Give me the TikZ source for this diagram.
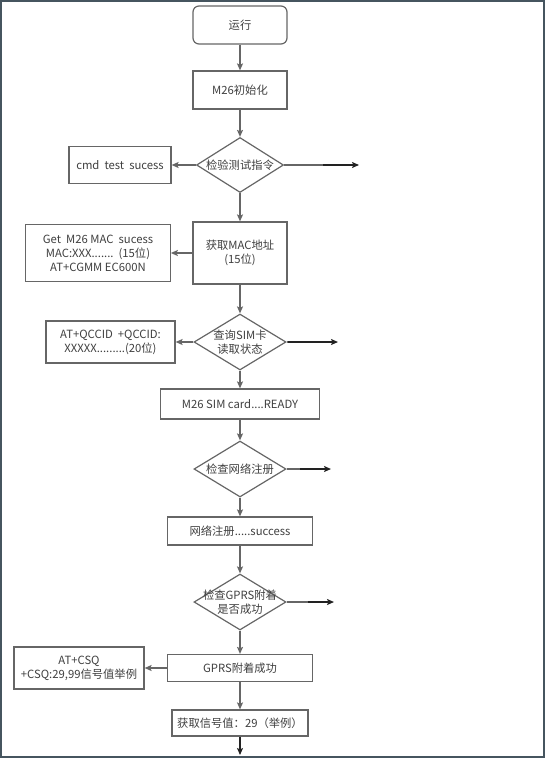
\documentclass[tikz,border=0pt]{standalone}
\usepackage{fontspec}
\setmainfont{Noto Sans CJK SC}
\usetikzlibrary{shapes.geometric,arrows.meta}
\definecolor{ln}{HTML}{666666}
\definecolor{dk}{HTML}{222222}
\definecolor{tx}{HTML}{404040}
\definecolor{fr}{HTML}{46555F}
\newcommand{\fnt}{\fontsize{11.3}{14}\selectfont}
\newcommand{\dtxt}[1]{\makebox[0pt]{\raisebox{-4pt}[0pt][0pt]{\begin{tabular}{@{}c@{}}#1\end{tabular}}}}
\begin{document}
\begin{tikzpicture}[x=1pt,y=1pt,
  box/.style={draw=ln, line width=1.2pt, fill=white, text=tx, inner sep=0pt, align=center, font=\fnt},
  sz/.style 2 args={minimum width=#1pt, minimum height=#2pt},
  dia/.style={diamond, draw=ln, line width=1.2pt, fill=white, text=tx, inner sep=0pt, font=\fnt},
  arr/.style={draw=ln, line width=1.3pt, -{Stealth[length=7pt,width=6pt,inset=1.5pt]}},
  plain/.style={draw=ln, line width=1.3pt},
  darr/.style={draw=dk, line width=1.5pt, -{Stealth[length=7pt,width=6pt,inset=1.5pt]}}
]
\useasboundingbox (0,0) rectangle (546,-758);
\draw[fr, line width=1.6pt] (0.8,-0.8) rectangle (544.2,-757.2);

\node[box, sz={94}{38}, rounded corners=6pt] (start) at (240,-25) {运行};
\node[box, sz={94}{38}] (init) at (240,-90) {M26初始化};
\node[dia, sz={87}{55}] (d1) at (240,-165) {\dtxt{检验测试指令}};
\node[box, sz={102}{37}] (cmd) at (120,-165) {cmd\ \ test\ \ sucess};
\node[box, sz={94}{62}] (mac) at (240,-253) {获取MAC地址\\(15位)};
\node[box, sz={144.5}{57}] (get) at (98,-253) {Get\ \ M26 MAC\ \ sucess\\MAC:XXX.......\ \ (15位)\\AT+CGMM EC600N};
\node[dia, sz={92}{56}] (d2) at (240,-342) {\dtxt{查询SIM卡\\读取状态}};
\node[box, sz={129}{42}] (qccid) at (110.5,-342) {AT+QCCID\ \ +QCCID:\\XXXXX.........(20位)};
\node[box, sz={159.5}{30}] (sim) at (240,-404) {M26 SIM card....READY};
\node[dia, sz={92}{56}] (d3) at (240,-469) {\dtxt{检查网络注册}};
\node[box, sz={145.5}{28}] (net) at (240,-531) {网络注册.....success};
\node[dia, sz={92}{56}] (d4) at (240,-602) {\dtxt{检查GPRS附着\\是否成功}};
\node[box, sz={145.5}{27}] (gprs) at (240,-668) {GPRS附着成功};
\node[box, sz={130}{42}] (csq) at (79,-668) {AT+CSQ\\+CSQ:29,99信号值举例};
\node[box, sz={136}{26}] (sig) at (240,-723) {获取信号值：29（举例）};

\coordinate (r1m) at (323,-165);
\coordinate (r1) at (359,-165);
\coordinate (r2m) at (288,-342);
\coordinate (r2) at (338,-342);
\coordinate (r3m) at (300,-469);
\coordinate (r3) at (331,-469);
\coordinate (r4m) at (308,-602);
\coordinate (r4) at (334,-602);
\coordinate (endc) at (240,-755);

\draw[arr] (start) -- (init);
\draw[arr] (init) -- (d1);
\draw[arr] (d1) -- (cmd);
\draw[arr] (d1) -- (mac);
\draw[arr] (mac) -- (get);
\draw[arr] (mac) -- (d2);
\draw[arr] (d2) -- (qccid);
\draw[arr] (d2) -- (sim);
\draw[arr] (sim) -- (d3);
\draw[arr] (d3) -- (net);
\draw[arr] (net) -- (d4);
\draw[arr] (d4) -- (gprs);
\draw[arr] (gprs) -- (csq);
\draw[arr] (gprs) -- (sig);
\draw[darr] (sig) -- (endc);

\draw[plain] (d1) -- (r1m);
\draw[darr] (r1m) -- (r1);
\draw[plain] (d2) -- (r2m);
\draw[darr] (r2m) -- (r2);
\draw[plain] (d3) -- (r3m);
\draw[darr] (r3m) -- (r3);
\draw[plain] (d4) -- (r4m);
\draw[darr] (r4m) -- (r4);
\end{tikzpicture}
\end{document}
